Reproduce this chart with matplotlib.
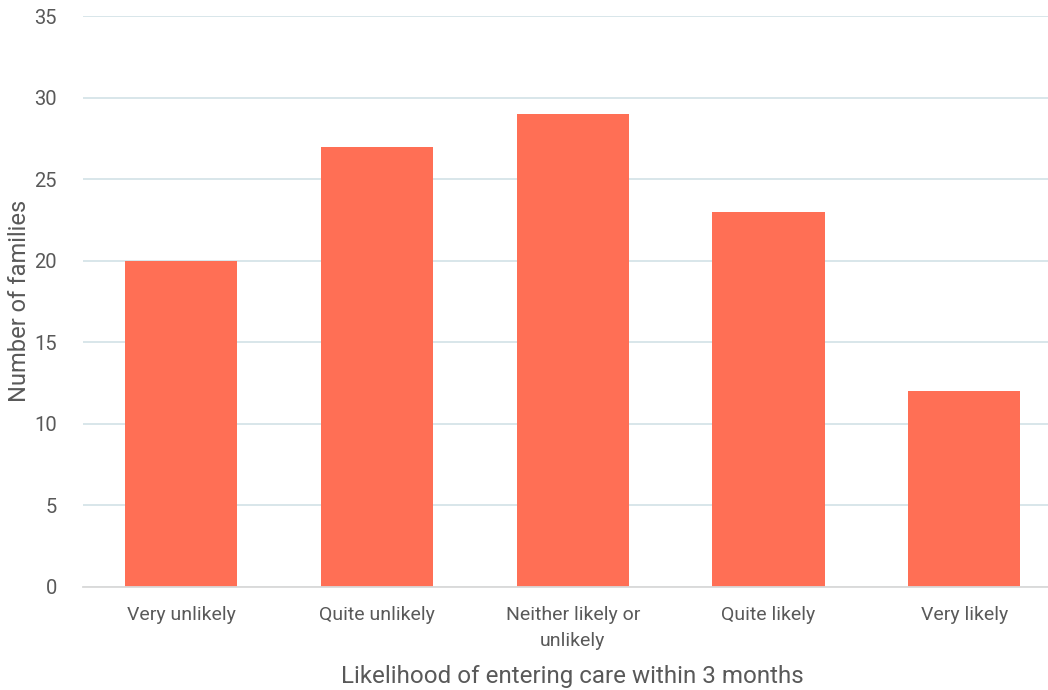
import matplotlib.pyplot as plt
import numpy as np

categories = [
    "Very unlikely",
    "Quite unlikely",
    "Neither likely or\nunlikely",
    "Quite likely",
    "Very likely",
]
families = [20, 27, 29, 23, 12]
y_ticks = [0, 5, 10, 15, 20, 25, 30, 35]

plt.rcParams["font.family"] = ["Roboto", "DejaVu Sans"]
text_color = "#595959"

fig = plt.figure(figsize=(10.48, 6.9), dpi=100)
ax = fig.add_axes([0.0795, 0.1493, 0.934, 0.8275])

x = np.arange(len(categories))
ax.bar(x, families, width=0.573, color="#FF6F55", zorder=3)

ax.set_xlim(-0.5, len(categories) - 0.5)
ax.set_ylim(0, 35)
ax.set_yticks(y_ticks)
ax.set_xticks(x)
ax.set_xticklabels(categories, fontsize=14, color=text_color, linespacing=1.55)
ax.tick_params(axis="y", labelsize=14.5, labelcolor=text_color, length=0, pad=19)
ax.tick_params(axis="x", length=0, pad=14)

ax.grid(axis="y", color="#D6E4E8", linewidth=1.3, zorder=0)
for side in ["top", "right", "left"]:
    ax.spines[side].set_visible(False)
ax.spines["bottom"].set_color("#D9D9D9")
ax.spines["bottom"].set_linewidth(1.3)
ax.spines["bottom"].set_zorder(4)

# axis titles placed in figure pixels to match the reference layout
fig.text(20 / 1048, 1 - 301 / 690, "Number of families", rotation=90,
         fontsize=17, color=text_color, ha="center", va="center")
fig.text(572 / 1048, 1 - 677 / 690, "Likelihood of entering care within 3 months",
         fontsize=17.4, color=text_color, ha="center", va="center")

fig.savefig("out.png", dpi=100)
